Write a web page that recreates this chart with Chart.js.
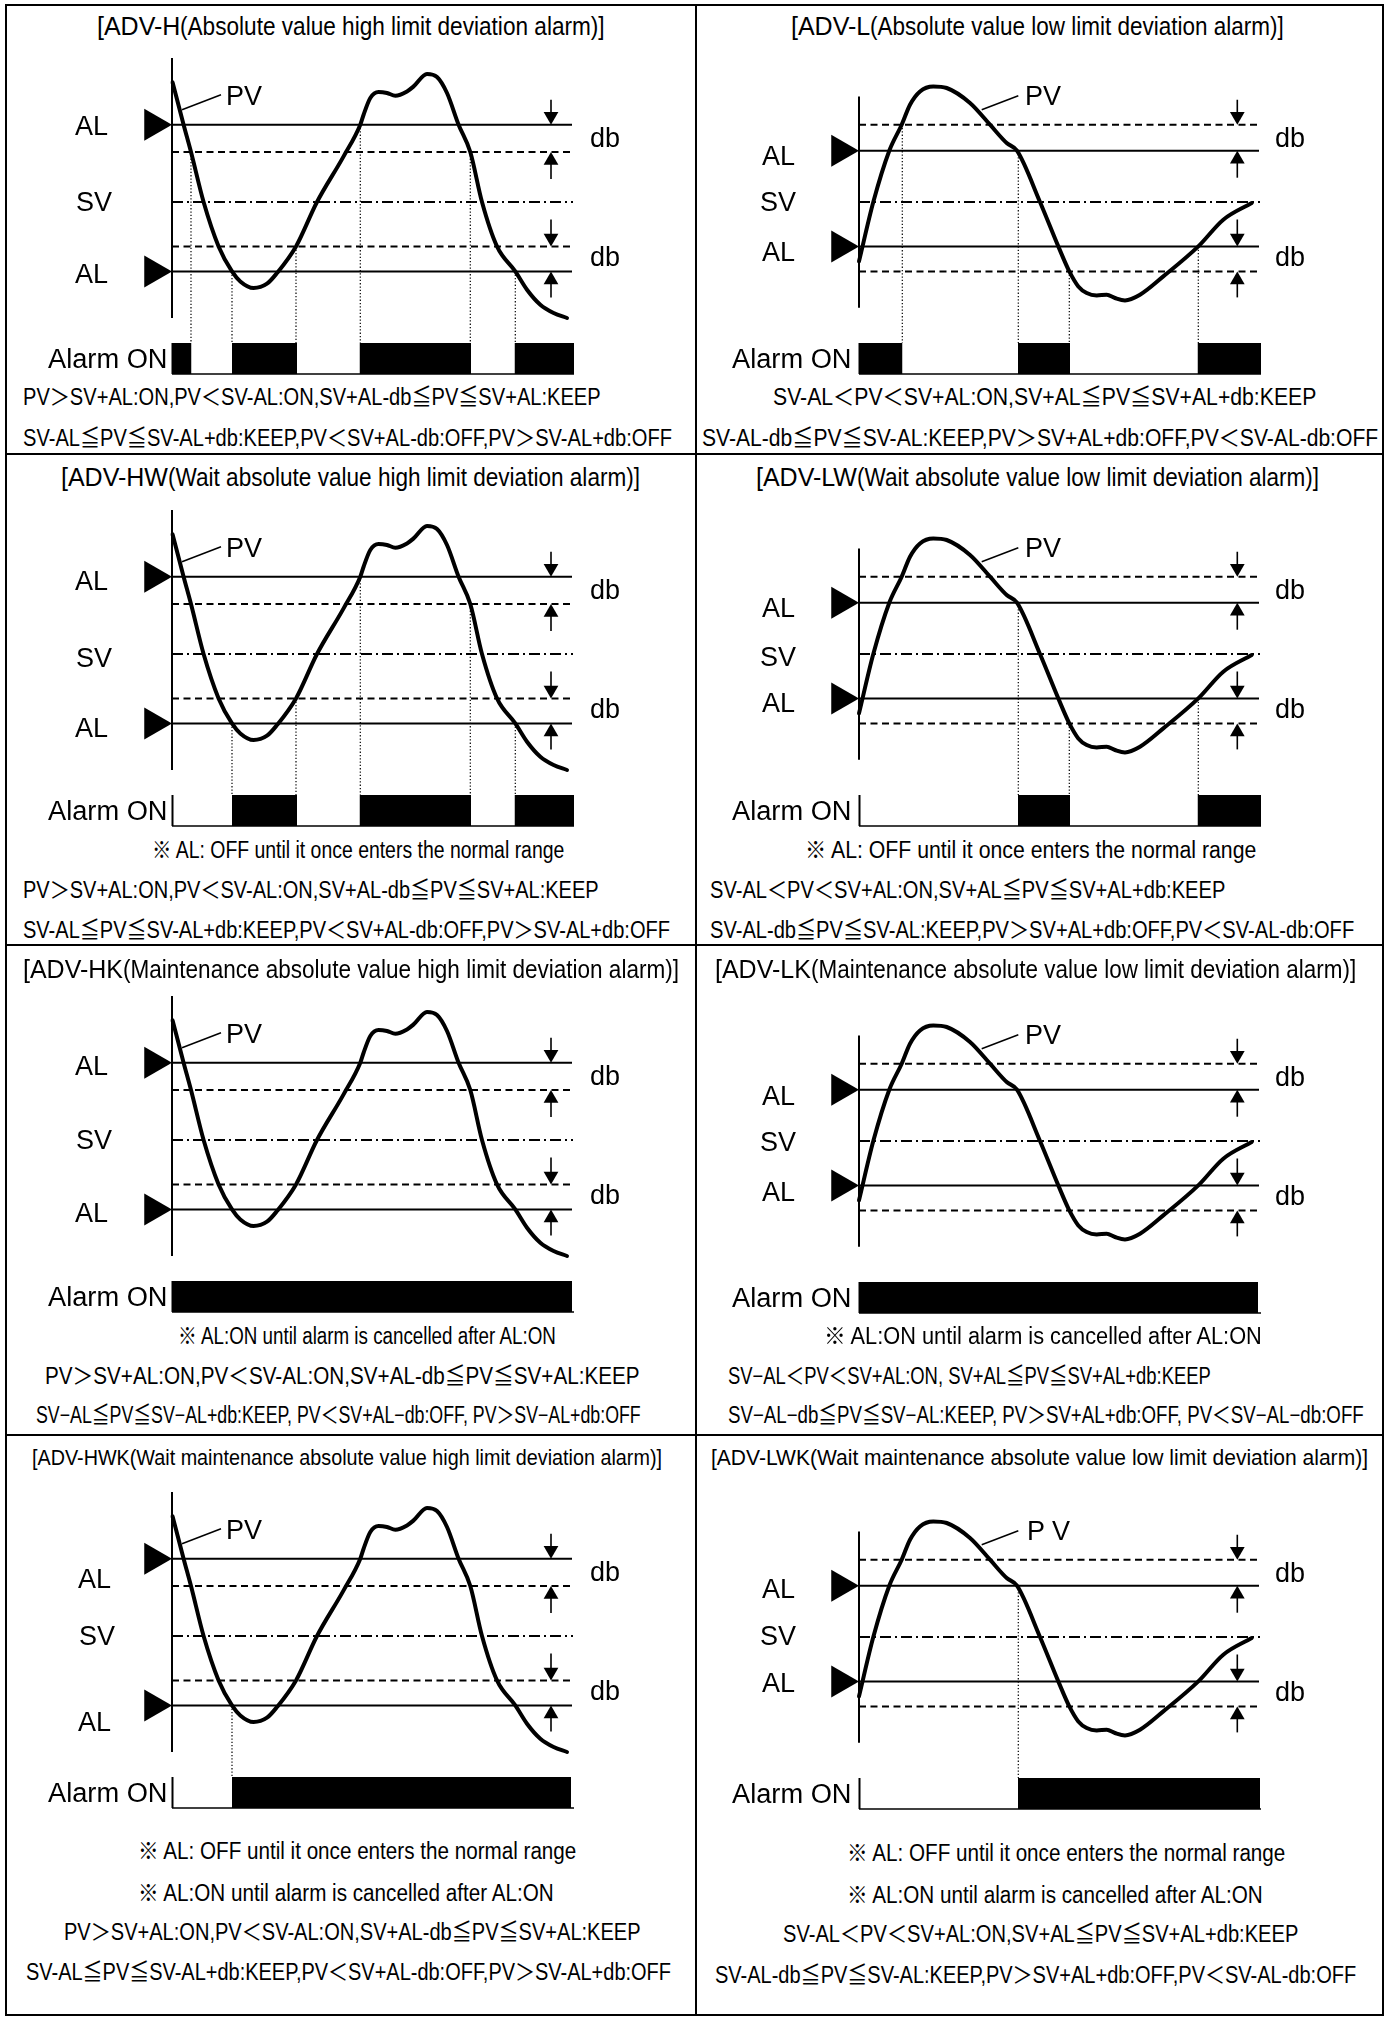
<!DOCTYPE html>
<html><head><meta charset="utf-8">
<script src="https://cdn.jsdelivr.net/npm/chart.js@4.4.1/dist/chart.umd.min.js"></script>
<style>
html,body{margin:0;padding:0;background:#fff;}
body{width:1391px;height:2020px;position:relative;overflow:hidden;font-family:"Liberation Sans",Arial,"Noto Sans CJK JP",sans-serif;color:#000;}
.ln{position:absolute;background:#000;}
canvas{position:absolute;}
.t{position:absolute;white-space:nowrap;line-height:1;transform-origin:0 50%;}
.t span{display:inline-block;transform-origin:0 50%;}
</style></head><body>
<script>
// ================= DATA =================
// PV curve, high-limit drawings: time (from the axis) and value (relative to SV)
const pvHighTime  = [0.6, 11.6, 19, 31.6, 46.6, 60, 68.3, 81.6, 95, 105, 124, 145, 171.6, 188.3, 191.6, 198.3, 206.6, 215, 223.3, 235, 241.6, 255, 265, 275, 286.6, 298.3, 310, 325, 343.3, 355, 368.3, 381.6, 395];
const pvHighValue = [119.6, 77.3, 50, 0, -44.4, -69.4, -79.4, -86, -81.7, -71, -44.4, 0, 45.6, 77.3, 87.3, 104, 110, 109, 106.3, 110.6, 115.6, 128, 125, 109, 77.3, 50, 0, -44.4, -69.4, -87.7, -102.7, -111, -116];
// PV curve, low-limit drawings
const pvLowTime  = [0, 14.3, 30.3, 42.7, 51, 61, 74.3, 87.7, 111, 131, 147.7, 158, 181, 199.3, 210.3, 219.3, 227.7, 237.7, 247.7, 256, 266, 281, 304.3, 339.3, 364.3, 392.7];
const pvLowValue = [-59.4, 0, 51.3, 77.3, 97.3, 110.6, 115.6, 114, 99, 77.3, 59, 51.3, 0, -44.4, -69.4, -84.4, -91, -93.4, -92.7, -96, -98.4, -92.7, -74.4, -44.4, -17.7, -1];

// reference levels
const levelNamesHigh  = ['SV+AL', 'SV+AL-db', 'SV', 'SV-AL+db', 'SV-AL'];
const levelValuesHigh = [77.3, 50, 0, -44.4, -69.4];
const levelNamesLow   = ['SV+AL+db', 'SV+AL', 'SV', 'SV-AL', 'SV-AL-db'];
const levelValuesLow  = [77.3, 51.3, 0, -44.4, -69.4];
const axisRangeHigh = [144, -116];
const axisRangeLow  = [105.6, -105.7];
const timeEnd = 400;
const alarmBand = [-141, -172];

// panels
const panelKinds = ['H', 'L', 'HW', 'LW', 'HK', 'LK', 'HWK', 'LWK'];
// alarm ON intervals (time)
const alarmH   = [[0, 19.5], [60, 125], [187.5, 299], [342.5, 402]];
const alarmL   = [[0, 43.5], [159, 211], [338.5, 402]];
const alarmHW  = [[60, 125], [187.5, 299], [342.5, 402]];
const alarmLW  = [[159, 211], [338.5, 402]];
const alarmHK  = [[0, 400]];
const alarmLK  = [[0, 399]];
const alarmHWK = [[60, 399]];
const alarmLWK = [[159, 401]];
// switching points: [time, level]
const switchH   = [[19, 50], [60, -69.4], [124, -44.4], [188.3, 77.3], [298.3, 50], [343.3, -69.4]];
const switchL   = [[43.3, 77.3], [159.3, 51.3], [210.3, -69.4], [339.3, -44.4]];
const switchHW  = [[60, -69.4], [124, -44.4], [188.3, 77.3], [298.3, 50], [343.3, -69.4]];
const switchLW  = [[159.3, 51.3], [210.3, -69.4], [339.3, -44.4]];
const switchHK  = [];
const switchLK  = [];
const switchHWK = [[60, -69.4]];
const switchLWK = [[159.3, 51.3]];
const alarmIntervals = [alarmH, alarmL, alarmHW, alarmLW, alarmHK, alarmLK, alarmHWK, alarmLWK];
const switchPoints   = [switchH, switchL, switchHW, switchLW, switchHK, switchLK, switchHWK, switchLWK];

// texts
const titleHeads = ['[ADV-H', '[ADV-L', '[ADV-HW', '[ADV-LW', '[ADV-HK', '[ADV-LK', '', ''];
const titleTails = [
  '(Absolute value high limit deviation alarm)]',
  '(Absolute value low limit deviation alarm)]',
  '(Wait absolute value high limit deviation alarm)]',
  '(Wait absolute value low limit deviation alarm)]',
  '(Maintenance absolute value high limit deviation alarm)]',
  '(Maintenance absolute value low limit deviation alarm)]',
  '[ADV-HWK(Wait maintenance absolute value high limit deviation alarm)]',
  '[ADV-LWK(Wait maintenance absolute value low limit deviation alarm)]'];
const noteWait = '※ AL: OFF until it once enters the normal range';
const noteKeep = '※ AL:ON until alarm is cancelled after AL:ON';
const rulesH1 = 'PV＞SV+AL:ON,PV＜SV-AL:ON,SV+AL-db≦PV≦SV+AL:KEEP';
const rulesH2 = 'SV-AL≦PV≦SV-AL+db:KEEP,PV＜SV+AL-db:OFF,PV＞SV-AL+db:OFF';
const rulesL1 = 'SV-AL＜PV＜SV+AL:ON,SV+AL≦PV≦SV+AL+db:KEEP';
const rulesL2 = 'SV-AL-db≦PV≦SV-AL:KEEP,PV＞SV+AL+db:OFF,PV＜SV-AL-db:OFF';
const rulesHK2 = 'SV−AL≦PV≦SV−AL+db:KEEP, PV＜SV+AL−db:OFF, PV＞SV−AL+db:OFF';
const rulesLK1 = 'SV−AL＜PV＜SV+AL:ON, SV+AL≦PV≦SV+AL+db:KEEP';
const rulesLK2 = 'SV−AL−db≦PV≦SV−AL:KEEP, PV＞SV+AL+db:OFF, PV＜SV−AL−db:OFF';
const panelLines = [
  [rulesH1, rulesH2],
  [rulesL1, rulesL2],
  [noteWait, rulesH1, rulesH2],
  [noteWait, rulesL1, rulesL2],
  [noteKeep, rulesH1, rulesHK2],
  [noteKeep, rulesLK1, rulesLK2],
  [noteWait, noteKeep, rulesH1, rulesH2],
  [noteWait, noteKeep, rulesL1, rulesL2]];
const pvLabels = ['PV', 'PV', 'PV', 'PV', 'PV', 'PV', 'PV', 'P V'];

// ================= LAYOUT (positions / styles) =================
const panelAxisX = [172, 859, 172, 859, 172, 859, 172, 859];
const panelSvY   = [202, 202, 654, 654, 1140, 1141, 1636, 1637];
const levelLabelDy = [[-76, 0, 72], [-46, 0, 50], [-73, 4, 74], [-46, 3, 49], [-74, 0, 73], [-45, 1, 51], [-57, 0, 86], [-48, -1, 46]];
const titleBox = [[97, 605, 26], [791, 1284, 26], [61, 640, 477], [756, 1319, 477], [23, 679, 969], [715, 1356, 969], [32, 662, 1458], [711, 1368, 1458]];
const lineBoxes = [
  [[23, 601, 397], [23, 672, 438]],
  [[773, 1316, 397], [702, 1378, 438]],
  [[152, 564, 850], [23, 599, 890], [23, 670, 930]],
  [[805, 1256, 850], [710, 1225, 890], [710, 1354, 930]],
  [[178, 556, 1336], [45, 640, 1376], [36, 641, 1415]],
  [[824, 1262, 1336], [728, 1211, 1376], [728, 1364, 1415]],
  [[138, 576, 1851], [138, 554, 1893], [64, 641, 1932], [26, 671, 1972]],
  [[847, 1285, 1853], [847, 1263, 1895], [783, 1298, 1934], [715, 1356, 1975]]];

const CW = 620, CH = 340, XMIN = -160, YMAX = 160;

// ---------- borders ----------
function rule(x, y, w, h) { const d = document.createElement('div'); d.className = 'ln'; Object.assign(d.style, {left: x + 'px', top: y + 'px', width: w + 'px', height: h + 'px'}); document.body.appendChild(d); }
rule(5, 4, 1379, 2); rule(5, 2014, 1379, 2); rule(5, 4, 2, 2012); rule(1382, 4, 2, 2012);
rule(695, 4, 2, 2012);
rule(5, 453, 1379, 2); rule(5, 944, 1379, 2); rule(5, 1434, 1379, 2);

// ---------- text helpers ----------
const fitters = [];
function addText(txt, left, right, cy, size, fitIt) {
  const d = document.createElement('div');
  d.className = 't'; d.textContent = txt;
  Object.assign(d.style, {left: left + 'px', top: cy + 'px', fontSize: size + 'px', transform: 'translateY(-50%)'});
  document.body.appendChild(d);
  if (fitIt) fitters.push(() => { const w = d.offsetWidth; d.style.transform = 'translateY(-50%) scaleX(' + ((right - left) / w) + ')'; });
  return d;
}
function addTitle(head, tail, box, size) {
  const d = document.createElement('div');
  d.className = 't';
  Object.assign(d.style, {left: box[0] + 'px', top: box[2] + 'px', fontSize: size + 'px', transform: 'translateY(-50%)'});
  const a = document.createElement('span'); a.textContent = head;
  const b = document.createElement('span'); b.textContent = tail;
  d.appendChild(a); d.appendChild(b); document.body.appendChild(d);
  fitters.push(() => {
    b.style.transform = 'none';
    const wa = a.getBoundingClientRect().width, wb = b.getBoundingClientRect().width;
    b.style.transform = 'scaleX(' + ((box[1] - box[0] - wa) / wb) + ')';
  });
}

// ---------- charts ----------
function drawPanel(i) {
  const kind = panelKinds[i];
  const high = kind[0] === 'H';
  const T = high ? pvHighTime : pvLowTime, V = high ? pvHighValue : pvLowValue;
  const names = high ? levelNamesHigh : levelNamesLow;
  const vals = high ? levelValuesHigh : levelValuesLow;
  const axis = high ? axisRangeHigh : axisRangeLow;
  const ds = [];
  const line = (pts, w, dash) => ds.push({data: pts, borderColor: '#000', borderWidth: w, borderDash: dash || [], pointRadius: 0, fill: false, tension: 0});

  // PV curve on top
  ds.push({data: T.map((t, k) => ({x: t, y: V[k]})), borderColor: '#000', borderWidth: 4, pointRadius: 0, fill: false,
           cubicInterpolationMode: 'monotone', borderCapStyle: 'round', borderJoinStyle: 'round'});
  // vertical axis
  line([{x: 0, y: axis[0]}, {x: 0, y: axis[1]}], 2);
  // reference levels
  names.forEach((n, k) => {
    const dash = n === 'SV' ? [11, 4, 2, 4] : (n.indexOf('db') >= 0 ? [7, 4.5] : []);
    line([{x: 0, y: vals[k]}, {x: n === 'SV' ? timeEnd + 1 : timeEnd, y: vals[k]}], n === 'SV' ? 1.8 : 2, dash);
  });
  // AL markers
  const alVals = vals.filter((v, k) => names[k] === 'SV+AL' || names[k] === 'SV-AL');
  ds.push({data: alVals.map(v => ({x: -18.5, y: v})), showLine: false, pointStyle: 'triangle', pointRotation: 90,
           pointRadius: 18.5, pointBackgroundColor: '#000', pointBorderWidth: 0, borderWidth: 0, borderColor: '#000'});
  // db arrows (down onto levels 0 and 3, up onto levels 1 and 4)
  const ax = high ? 379 : 378.3, r = 8.5;
  line([{x: ax, y: vals[0] + 25}, {x: ax, y: vals[0] + r}], 1.6);
  line([{x: ax, y: vals[1] - 27}, {x: ax, y: vals[1] - r}], 1.6);
  line([{x: ax, y: vals[3] + 27}, {x: ax, y: vals[3] + r}], 1.6);
  line([{x: ax, y: vals[4] - 26}, {x: ax, y: vals[4] - r}], 1.6);
  ds.push({data: [{x: ax, y: vals[0] + r}, {x: ax, y: vals[3] + r}], showLine: false, pointStyle: 'triangle', pointRotation: 180,
           pointRadius: r, pointBackgroundColor: '#000', pointBorderWidth: 0, borderWidth: 0});
  ds.push({data: [{x: ax, y: vals[1] - r}, {x: ax, y: vals[4] - r}], showLine: false, pointStyle: 'triangle', pointRotation: 0,
           pointRadius: r, pointBackgroundColor: '#000', pointBorderWidth: 0, borderWidth: 0});
  // PV leader line
  if (high) line([{x: 10, y: 92.3}, {x: 49, y: 107.3}], 1.5);
  else line([{x: 122.7, y: 92.3}, {x: 159.3, y: 106.3}], 1.5);
  // switching (dotted) lines
  switchPoints[i].forEach(([t, v]) => line([{x: t, y: v}, {x: t, y: alarmBand[0]}], 1.2, [1.3, 2]));
  // alarm baseline + left tick
  line([{x: 0, y: alarmBand[1]}, {x: 402, y: alarmBand[1]}], 1.5);
  line([{x: 0.5, y: alarmBand[1]}, {x: 0.5, y: alarmBand[0]}], 2);
  // alarm ON bars
  alarmIntervals[i].forEach(([s, e]) => ds.push({data: [{x: s, y: alarmBand[0]}, {x: e, y: alarmBand[0]}], borderWidth: 0,
        borderColor: '#000', backgroundColor: '#000', fill: {value: alarmBand[1]}, pointRadius: 0}));

  const cv = document.createElement('canvas');
  cv.width = CW; cv.height = CH;
  Object.assign(cv.style, {left: (panelAxisX[i] + XMIN) + 'px', top: (panelSvY[i] - YMAX) + 'px', width: CW + 'px', height: CH + 'px'});
  document.body.appendChild(cv);
  new Chart(cv, {
    type: 'line',
    data: {datasets: ds},
    options: {
      responsive: false, animation: false, devicePixelRatio: 1, events: [],
      layout: {padding: 0, autoPadding: false},
      plugins: {legend: {display: false}, tooltip: {enabled: false}},
      elements: {point: {radius: 0}},
      scales: {
        x: {type: 'linear', display: false, min: XMIN, max: XMIN + CW},
        y: {type: 'linear', display: false, min: YMAX - CH, max: YMAX}
      }
    }
  });

  // in-chart labels (HTML text)
  const left = i % 2 === 0;
  const sv = panelSvY[i];
  const labX = left ? (i === 6 ? 78 : 75) : 762;
  const dy = levelLabelDy[i];
  addText('AL', labX, 0, sv + dy[0], 27);
  addText('SV', labX + (left ? 1 : -2), 0, sv + dy[1], 27);
  addText('AL', labX, 0, sv + dy[2], 27);
  const dbX = left ? 590 : 1275;
  addText('db', dbX, 0, sv - 64, 27);
  addText('db', dbX, 0, sv + 55, 27);
  addText(pvLabels[i], left ? 226 : (i === 7 ? 1027 : 1025), 0, sv - 106, 27);
  const ax0 = left ? 48 : 732;
  addText('Alarm ON', ax0, ax0 + 120, sv + 157, 27, true);

  // title + description lines
  addTitle(titleHeads[i], titleTails[i], titleBox[i], i >= 6 ? 22 : 25);
  panelLines[i].forEach((s, k) => { const b = lineBoxes[i][k]; addText(s, b[0], b[1], b[2], 23, true); });
}

panelKinds.forEach((k, i) => drawPanel(i));
function runFit() { fitters.forEach(f => f()); }
runFit();
if (document.fonts && document.fonts.ready) document.fonts.ready.then(runFit);
</script>
</body></html>
